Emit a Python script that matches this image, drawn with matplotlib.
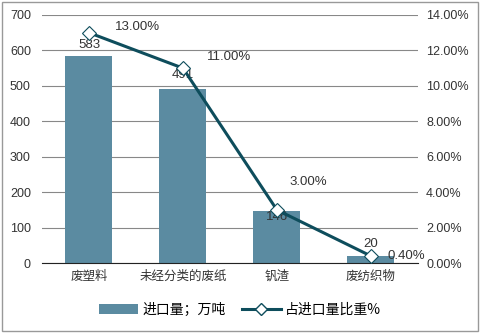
import matplotlib
matplotlib.use('Agg')
import matplotlib.pyplot as plt
from matplotlib.lines import Line2D
from matplotlib.patches import Patch
import numpy as np

plt.rcParams['font.family'] = ['Liberation Sans', 'Noto Sans CJK SC', 'DejaVu Sans']

# data
categories = ['废塑料', '未经分类的废纸', '钒渣', '废纺织物']
volumes = [583, 491, 146, 20]          # 万吨
shares = [13.00, 11.00, 3.00, 0.40]    # %

# label offsets (points), tuned by eye to match the original
vol_offsets = [(0, 4), (0, 6), (0, -4), (0, 4)]
pct_offsets = [(19, 4), (17, 8), (9, 20), (12, 0)]

bar_color = '#5b8ba1'
line_color = '#0e4d5c'
text_color = '#333333'

fig = plt.figure(figsize=(4.8, 3.33), dpi=100)
ax = fig.add_axes([0.0875, 0.21, 0.783, 0.745])
ax2 = ax.twinx()

x = np.arange(len(categories))
bars = ax.bar(x, volumes, 0.5, color=bar_color, zorder=2)
ax.set_ylim(0, 700)
ax.set_yticks(range(0, 701, 100))
ax.set_xlim(-0.5, len(categories) - 0.5)
ax.set_xticks(x)
ax.set_xticklabels(categories, fontsize=8.5, color=text_color,
                   family=['Noto Sans CJK SC', 'DejaVu Sans'])
ax.grid(axis='y', color='#888888', linewidth=0.8, zorder=0)
ax.set_axisbelow(True)
for s in ['top', 'left', 'right']:
    ax.spines[s].set_visible(False)
ax.spines['bottom'].set_color('#222222')
ax.tick_params(axis='both', length=0, labelsize=9, colors=text_color)
ax.tick_params(axis='x', pad=5)
ax.tick_params(axis='y', pad=8)

for b, v, off in zip(bars, volumes, vol_offsets):
    ax.annotate(str(v), (b.get_x() + b.get_width() / 2, v), xytext=off,
                textcoords='offset points', ha='center', va='bottom' if off[1] >= 0 else 'center',
                fontsize=9.5, color=text_color, zorder=5)

ax2.plot(x, shares, color=line_color, linewidth=2.2, marker='D', markersize=7.5,
         markerfacecolor='white', markeredgecolor=line_color, markeredgewidth=0.8, zorder=4)
ax2.set_ylim(0, 14)
ax2.set_yticks(range(0, 15, 2))
ax2.set_yticklabels([f'{t:.2f}%' for t in range(0, 15, 2)])
ax2.tick_params(axis='y', length=0, labelsize=9, colors=text_color, pad=6)
for s in ax2.spines.values():
    s.set_visible(False)
for xi, p, off in zip(x, shares, pct_offsets):
    ax2.annotate(f'{p:.2f}%', (xi, p), xytext=off, textcoords='offset points',
                 ha='left', va='center', fontsize=9.5, color=text_color)

handles = [Patch(facecolor=bar_color, edgecolor='none'),
           Line2D([0], [0], color=line_color, linewidth=2.2, marker='D', markersize=6,
                  markerfacecolor='white', markeredgecolor=line_color)]
fig.legend(handles, ['进口量；万吨', '占进口量比重%'], loc='center', bbox_to_anchor=(0.5, 0.07),
           ncol=2, frameon=False, handlelength=2.8, columnspacing=1.2,
           handletextpad=0.3, prop={'family': ['Noto Sans CJK SC', 'DejaVu Sans'], 'size': 10})

fig.patches.append(plt.Rectangle((0.004, 0.006), 0.992, 0.988, transform=fig.transFigure,
                                 fill=False, edgecolor='#999999', linewidth=1))

fig.savefig('out.png', dpi=100)
